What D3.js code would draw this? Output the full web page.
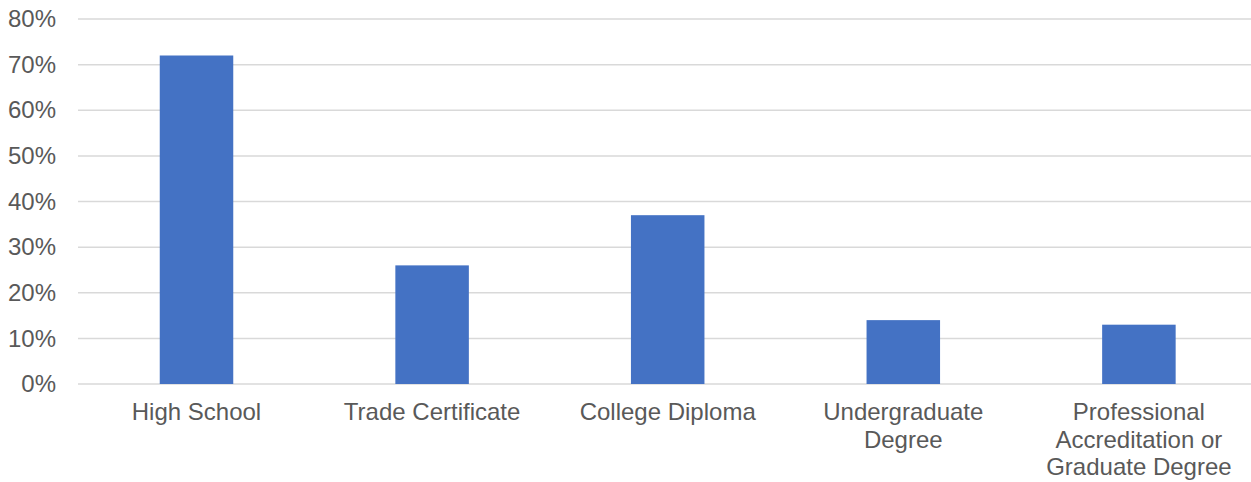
<!DOCTYPE html>
<html>
<head>
<meta charset="utf-8">
<script src="https://cdn.jsdelivr.net/npm/d3@7"></script>
<style>
  html, body { margin: 0; padding: 0; background: #fff; }
  svg { display: block; font-family: "Liberation Sans", Arial, sans-serif; }
</style>
</head>
<body>
<svg id="chart" width="1251" height="482"></svg>
<script>
const categories = ["High School", "Trade Certificate", "College Diploma", "Undergraduate Degree", "Professional Accreditation or Graduate Degree"];
const values = [0.72, 0.26, 0.37, 0.14, 0.13];
const yTicks = [0, 0.1, 0.2, 0.3, 0.4, 0.5, 0.6, 0.7, 0.8];

const svg = d3.select("#chart");
const plotLeft = 78.7, plotRight = 1256.7, plotTop = 19, plotBottom = 384;
const fontSize = "24px";

const x = d3.scaleBand().domain(categories).range([plotLeft, plotRight]).paddingInner(0.688).paddingOuter(0.344);
const y = d3.scaleLinear().domain([0, 0.8]).range([plotBottom, plotTop]);

// gridlines
svg.append("g").selectAll("line").data(yTicks).join("line")
  .attr("x1", 78).attr("x2", 1251)
  .attr("y1", d => y(d)).attr("y2", d => y(d))
  .attr("stroke", "#d9d9d9").attr("stroke-width", 1.5);

// y axis labels
const yAxis = d3.axisLeft(y).tickValues(yTicks).tickFormat(d3.format(".0%")).tickSize(0).tickPadding(0);
const gy = svg.append("g").attr("transform", `translate(56,0)`).call(yAxis);
gy.select(".domain").remove();
gy.selectAll("text").attr("fill", "#595959").style("font-size", fontSize)
  .style("font-family", '"Liberation Sans", Arial, sans-serif');

// bars
svg.append("g").selectAll("rect").data(categories).join("rect")
  .attr("x", d => x(d))
  .attr("width", x.bandwidth())
  .attr("y", (d, i) => y(values[i]))
  .attr("height", (d, i) => y(0) - y(values[i]))
  .attr("fill", "#4472c4");

// x labels with wrapping
const full = d3.scaleBand().domain(categories).range([plotLeft, plotRight]);
const maxW = full.bandwidth() - 20;
const lab = svg.append("g");
const measure = svg.append("text").style("font-size", fontSize).attr("visibility", "hidden");
function wrap(str) {
  const words = str.split(" ");
  const lines = [];
  let cur = "";
  for (const w of words) {
    const t = cur ? cur + " " + w : w;
    measure.text(t);
    if (cur && measure.node().getComputedTextLength() > maxW) { lines.push(cur); cur = w; }
    else cur = t;
  }
  lines.push(cur);
  return lines;
}
categories.forEach(c => {
  const lines = wrap(c);
  const t = lab.append("text")
    .attr("text-anchor", "middle")
    .attr("fill", "#595959")
    .style("font-size", fontSize);
  lines.forEach((l, i) => {
    t.append("tspan").attr("x", full(c) + full.bandwidth() / 2)
      .attr("y", 420 + i * 27.5).text(l);
  });
});
measure.remove();
</script>
</body>
</html>
